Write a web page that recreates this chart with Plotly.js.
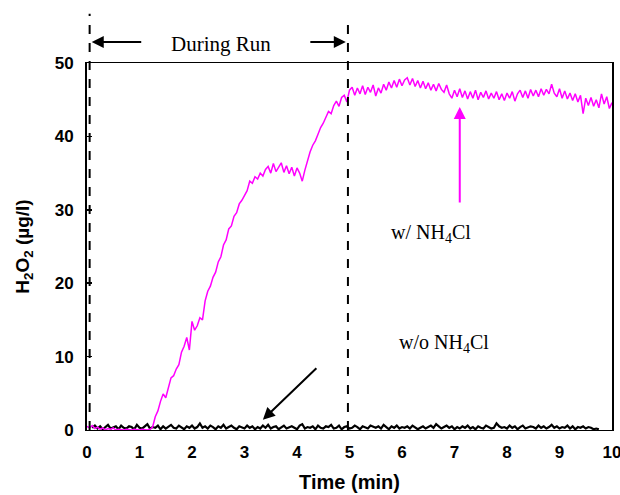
<!DOCTYPE html>
<html>
<head>
<meta charset="utf-8">
<script src="https://cdn.plot.ly/plotly-3.0.1.min.js"></script>
<style>html,body{margin:0;padding:0;background:#fff;}#chart{width:620px;height:495px;}</style>
</head>
<body>
<div id="chart"></div>
<script>
// Sampling grid (minutes)
const stepMin = 0.05;

// H2O2 with NH4Cl (magenta), t = 0.00 .. 10.00
const withNH4Cl = [
  0.5,0.3,0.6,0.2,0.4,0.1,0.3,0.0,0.2,0.1,0.3,0.0,0.1,0.0,
  0.0,0.1,0.0,0.0,0.1,0.0,0.0,0.1,0.0,0.0,0.1,
  0.4,1.8,2.6,3.9,4.9,4.4,5.9,7.1,7.4,8.3,8.9,10.6,11.4,12.6,10.9,
  14.8,13.6,14.2,15.3,15.0,17.6,18.9,19.6,20.8,21.5,22.9,23.6,25.2,25.9,27.4,27.8,
  29.1,29.6,30.8,31.3,31.9,32.6,33.9,33.6,34.5,34.2,35.0,34.6,35.5,35.9,35.0,
  36.3,35.2,35.9,36.4,35.1,36.0,34.9,35.8,34.6,35.7,35.0,33.9,35.4,36.8,37.9,
  38.8,39.4,40.3,41.2,41.8,42.6,43.4,43.1,44.2,44.8,44.1,45.3,45.6,44.7,46.3,
  46.7,45.6,46.6,45.8,46.9,45.7,46.7,46.0,47.0,45.5,46.6,45.9,47.1,46.3,47.4,
  46.6,47.6,46.7,47.8,46.9,47.7,48.0,47.0,47.9,46.8,47.6,46.6,47.5,46.5,47.3,
  46.3,47.1,46.2,47.2,46.4,46.0,47.0,45.8,45.2,46.3,45.4,46.5,45.3,46.2,45.1,
  46.1,45.2,46.3,45.0,46.0,45.3,46.2,45.1,45.9,45.2,46.1,45.0,45.8,44.9,45.9,
  45.2,46.1,44.8,45.8,46.3,45.3,46.2,45.2,46.4,45.5,46.3,45.4,46.5,45.6,46.4,
  45.8,47.1,45.9,45.4,46.5,45.2,46.2,45.1,45.9,44.9,45.8,44.7,45.6,43.1,45.2,
  44.2,45.3,44.1,45.0,43.9,45.8,44.4,45.4,43.8,44.6
];

// H2O2 without NH4Cl (black), t = 0.10 .. 9.75
const withoutStart = 0.10;
const withoutNH4Cl = [
  0.3,0.6,0.2,0.5,0.1,0.4,0.7,0.2,0.3,0.5,
  0.1,0.6,0.3,0.2,0.5,0.4,0.1,0.7,0.3,0.2,
  0.5,0.8,0.2,0.4,0.3,0.6,0.1,0.5,0.2,0.4,
  0.7,0.3,0.2,0.6,0.4,0.1,0.5,0.3,0.6,0.2,
  0.4,0.9,0.3,0.5,0.2,0.6,0.4,0.1,0.5,0.3,
  0.7,0.2,0.4,0.6,0.3,0.1,0.5,0.4,0.2,0.6,
  0.3,0.5,0.1,0.4,0.2,0.6,0.3,0.7,0.2,0.4,
  0.5,0.1,0.3,0.6,0.2,0.4,0.5,0.3,0.1,0.6,
  0.8,0.2,0.4,0.3,0.5,0.1,0.6,0.3,0.2,0.5,
  0.4,0.7,0.2,0.3,0.6,0.1,0.4,0.5,0.2,0.3,
  0.6,0.4,0.1,0.5,0.3,0.2,0.6,0.4,0.3,0.5,
  0.2,0.7,0.4,0.1,0.5,0.3,0.6,0.2,0.4,0.3,
  0.5,0.2,0.6,0.4,0.1,0.3,0.5,0.2,0.4,0.6,
  0.3,0.8,0.5,0.2,0.4,0.6,0.3,0.5,0.1,0.4,
  0.2,0.5,0.3,0.6,0.2,0.4,0.1,0.5,0.3,0.2,
  0.6,0.4,0.2,0.3,0.9,0.5,0.3,0.4,0.2,0.6,
  0.3,0.5,0.1,0.4,0.6,0.2,0.3,0.5,0.4,0.2,
  0.6,0.3,0.5,0.2,0.4,0.7,0.3,0.5,0.2,0.4,
  0.3,0.6,0.2,0.5,0.1,0.4,0.3,0.5,0.2,0.4,
  0.3,0.1,0.2,0.1
];

// Run window markers (min)
const runStart = 0.05;
const runEnd = 4.97;

// Axis ticks
const xTicks = [0,1,2,3,4,5,6,7,8,9,10];
const yTicks = [0,10,20,30,40,50];

const tWith = withNH4Cl.map((_, i) => +(i * stepMin).toFixed(2));
const tWithout = withoutNH4Cl.map((_, i) => +(withoutStart + i * stepMin).toFixed(2));

const serif = "Liberation Serif, Times New Roman, serif";
const sans = "Liberation Sans, Arial, sans-serif";

const traces = [
  {x: tWithout, y: withoutNH4Cl, type: 'scatter', mode: 'lines',
   line: {color: '#000000', width: 2.2}, hoverinfo: 'skip', showlegend: false},
  {x: tWith, y: withNH4Cl, type: 'scatter', mode: 'lines',
   line: {color: '#FF00FF', width: 1.5}, hoverinfo: 'skip', showlegend: false}
];

const layout = {
  width: 620, height: 495,
  margin: {l: 87, r: 8, t: 63, b: 65},
  paper_bgcolor: '#ffffff', plot_bgcolor: '#ffffff',
  showlegend: false,
  xaxis: {
    range: [0, 10], tickvals: xTicks, ticktext: xTicks.map(String),
    ticks: '', showgrid: false, zeroline: false,
    showline: true, linecolor: '#000', linewidth: 1.3, mirror: true,
    ticklabeloverflow: 'allow', ticklabelstandoff: 6,
    tickfont: {family: sans, size: 17, color: '#000', weight: 'bold'},
    title: {text: 'Time (min)', font: {family: sans, size: 20, color: '#000', weight: 'bold'}, standoff: 14}
  },
  yaxis: {
    range: [0, 50], tickvals: yTicks, ticktext: yTicks.map(String),
    ticks: 'inside', ticklen: 5, tickwidth: 1.5, tickcolor: '#000',
    showgrid: false, zeroline: false,
    showline: true, linecolor: '#000', linewidth: 2, mirror: true,
    ticklabelstandoff: 8,
    tickfont: {family: sans, size: 17, color: '#000', weight: 'bold'},
    title: {text: 'H<sub>2</sub>O<sub>2</sub> (µg/l)', font: {family: sans, size: 19, color: '#000', weight: 'bold'}, standoff: 20}
  },
  shapes: [
    {type: 'line', xref: 'x', yref: 'paper', x0: runStart, x1: runStart, y0: 0, y1: 1.134,
     line: {color: '#000', width: 2, dash: 'dash'}},
    {type: 'line', xref: 'x', yref: 'paper', x0: runEnd, x1: runEnd, y0: 0, y1: 1.12,
     line: {color: '#000', width: 2, dash: 'dash'}}
  ],
  annotations: [
    {text: 'During Run', xref: 'x', yref: 'paper', x: 2.55, y: 1.052, yanchor: 'middle', showarrow: false,
     font: {family: serif, size: 21, color: '#000'}},
    {text: '', xref: 'x', yref: 'paper', x: 0.09, y: 1.057, showarrow: true,
     ax: 51, ay: 0, arrowhead: 2, arrowsize: 1.2, arrowwidth: 2, arrowcolor: '#000'},
    {text: '', xref: 'x', yref: 'paper', x: 4.93, y: 1.057, showarrow: true,
     ax: -37, ay: 0, arrowhead: 2, arrowsize: 1.2, arrowwidth: 2, arrowcolor: '#000'},
    {text: 'w/ NH<sub>4</sub>Cl', xref: 'x', yref: 'y', x: 6.55, y: 26.8, showarrow: false,
     font: {family: serif, size: 20, color: '#000'}},
    {text: '', xref: 'x', yref: 'y', x: 7.1, y: 44.0, showarrow: true,
     ax: 0, ay: 97, arrowhead: 2, arrowsize: 1.2, arrowwidth: 2, arrowcolor: '#FF00FF'},
    {text: 'w/o NH<sub>4</sub>Cl', xref: 'x', yref: 'y', x: 6.8, y: 11.8, showarrow: false,
     font: {family: serif, size: 20, color: '#000'}},
    {text: '', xref: 'x', yref: 'y', x: 3.35, y: 1.4, showarrow: true,
     ax: 55, ay: -53, arrowhead: 2, arrowsize: 1.2, arrowwidth: 2, arrowcolor: '#000'}
  ]
};

Plotly.newPlot('chart', traces, layout, {displayModeBar: false, staticPlot: true});
</script>
</body>
</html>
